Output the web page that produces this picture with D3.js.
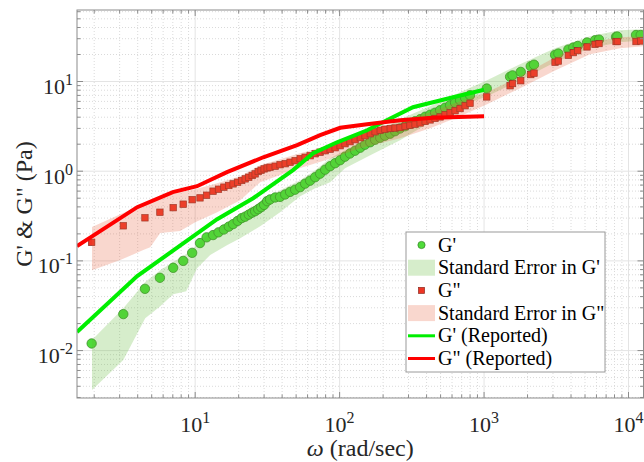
<!DOCTYPE html>
<html>
<head>
<meta charset="utf-8">
<script src="https://cdn.jsdelivr.net/npm/d3@7"></script>
<style>
  html, body { margin: 0; padding: 0; background: #fff; }
  svg { display: block; font-family: "Liberation Serif", "Times New Roman", serif; }
</style>
</head>
<body>
<div id="chart"></div>
<script>
// measured frequency sweep (rad/sec) with G' and G'' (Pa)
const omega = [1.92, 3.18, 4.49, 5.70, 7.04, 8.26, 9.53, 10.8, 12.0, 13.3,
  14.5, 15.8, 17.1, 18.3, 19.7, 21.0, 22.2, 23.5, 24.8, 26.0,
  27.3, 28.6, 30.0, 31.5, 33.0, 35.8, 38.7, 42.0, 45.4, 49.2,
  53.3, 57.7, 62.5, 67.7, 73.3, 79.4, 86.0, 93.1, 100.8, 109,
  118, 128, 139, 150, 163, 176, 191, 206, 224, 242,
  262, 284, 307, 333, 361, 391, 423, 458, 496, 537,
  582, 630, 682, 739, 800, 1044, 1514, 1575, 1795, 2105,
  2218, 3100, 3268, 3832, 4150, 4450, 5162, 5866, 6250, 8196,
  8366, 11270, 12145];
const gPrime = [0.0120, 0.0255, 0.0488, 0.0648, 0.0837, 0.100, 0.123, 0.158, 0.183, 0.194,
  0.208, 0.224, 0.241, 0.257, 0.279, 0.300, 0.311, 0.328, 0.345, 0.358,
  0.377, 0.397, 0.421, 0.463, 0.484, 0.509, 0.517, 0.550, 0.588, 0.622,
  0.664, 0.726, 0.784, 0.857, 0.938, 1.039, 1.137, 1.228, 1.326, 1.451,
  1.575, 1.692, 1.827, 1.974, 2.104, 2.244, 2.362, 2.486, 2.617, 2.791,
  2.991, 3.172, 3.382, 3.607, 3.797, 4.049, 4.262, 4.486, 4.783, 5.099,
  5.437, 5.798, 6.182, 6.592, 7.028, 8.35, 11.3, 11.7, 12.8, 14.8,
  15.4, 19.8, 20.5, 22.7, 23.9, 24.9, 27.2, 28.8, 29.3, 31.4,
  31.7, 33.0, 33.0];
const gDouble = [0.161, 0.246, 0.302, 0.349, 0.392, 0.429, 0.481, 0.504, 0.540, 0.599,
  0.630, 0.664, 0.693, 0.722, 0.754, 0.788, 0.821, 0.857, 0.896, 0.933,
  0.992, 1.026, 1.061, 1.088, 1.108, 1.137, 1.181, 1.212, 1.260, 1.309,
  1.378, 1.432, 1.488, 1.567, 1.628, 1.692, 1.759, 1.827, 1.924, 2.025,
  2.132, 2.244, 2.362, 2.486, 2.617, 2.755, 2.862, 2.938, 2.991, 3.029,
  3.068, 3.172, 3.254, 3.339, 3.452, 3.588, 3.729, 3.876, 4.027, 4.262,
  4.486, 4.722, 4.995, 5.368, 5.723, 6.73, 8.97, 9.49, 10.2, 11.95,
  12.4, 16.4, 16.9, 19.6, 21.0, 22.1, 24.3, 26.0, 26.5, 27.9,
  27.9, 27.9, 28.3];

// standard error bands
const seGpOmega = [1.93, 3.18, 4.51, 5.73, 7.04, 8.67, 10.3, 12.7, 16.7, 20.5,
  28.2, 38.7, 53.3, 67.7, 86.0, 109, 163, 262, 423, 682,
  1049, 1775, 3100, 5414, 8735, 12700];
const seGpLow = [0.00363, 0.00784, 0.0230, 0.0313, 0.0426, 0.046, 0.083, 0.116, 0.150, 0.179,
  0.244, 0.349, 0.527, 0.647, 0.754, 1.080, 1.507, 2.215, 3.516, 5.30,
  6.85, 10.3, 16.4, 23.5, 27.4, 28.8];
const seGpHigh = [0.0131, 0.0297, 0.058, 0.0788, 0.0969, 0.119, 0.150, 0.209, 0.270, 0.332,
  0.451, 0.614, 0.794, 1.026, 1.396, 1.714, 2.455, 3.797, 5.30, 7.59,
  10.3, 15.6, 23.5, 31.9, 37.2, 38.2];

const seGdpOmega = [1.93, 3.03, 4.37, 4.88, 5.73, 7.87, 10.0, 14.2, 20.5, 28.2,
  47.7, 79.4, 139, 262, 423, 682, 1049, 1775, 3100, 5414,
  8735, 12700];
const seGdpLow = [0.0788, 0.102, 0.132, 0.142, 0.204, 0.215, 0.270, 0.349, 0.475, 0.754,
  1.026, 1.326, 1.804, 2.332, 3.014, 4.101, 5.58, 8.41, 13.3, 20.1,
  23.5, 24.7];
const seGdpHigh = [0.238, 0.332, 0.429, 0.451, 0.513, 0.583, 0.630, 0.735, 0.880, 1.166,
  1.507, 1.899, 2.720, 3.607, 4.544, 6.026, 7.59, 11.4, 18.6, 27.4,
  31.1, 31.9];

// reported curves
const repGpOmega = [1.52, 3.97, 14.2, 25.2, 47.6, 65.6, 96, 155, 212, 322, 610, 1000];
const repGp = [0.0161, 0.0676, 0.292, 0.50, 1.03, 1.59, 2.10, 2.86, 3.70, 5.17, 6.67, 8.1];
const repGdpOmega = [1.52, 3.97, 7.0, 10.3, 16.6, 29.6, 50.8, 73.3, 101, 155, 262, 443, 1000];
const repGdp = [0.146, 0.397, 0.584, 0.68, 0.975, 1.43, 1.95, 2.52, 3.05, 3.34, 3.70, 3.95, 4.10];

const xTickExps = [1, 2, 3, 4];
const yTickExps = [-2, -1, 0, 1];
const xDomain = [1.52, 12700];
const yDomain = [0.00296, 62.7];

const legendLabels = ["G'", "Standard Error in G'", "G\"", "Standard Error in G\"", "G' (Reported)", "G\" (Reported)"];

const width = 644, height = 462;
const plot = {left: 77, right: 643.5, top: 10, bottom: 398};

const colors = {
  gpFill: "#4fdc3a", gpEdge: "#3a8c2a",
  gdpFill: "#ee3524", gdpEdge: "#8c2a20",
  gpBand: "#5cb82e", gdpBand: "#e8603c",
  gpLine: "#00ee00", gdpLine: "#ff0000",
  axis: "#8c8c8c", gridMajor: "#e4e4e4", gridMinor: "#dadada"
};

const svg = d3.select("#chart").append("svg")
  .attr("width", width)
  .attr("height", height);

const x = d3.scaleLog().domain(xDomain).range([plot.left, plot.right]);
const y = d3.scaleLog().domain(yDomain).range([plot.bottom, plot.top]);

function logTicks(domain) {
  const out = [];
  const lo = Math.floor(Math.log10(domain[0])), hi = Math.ceil(Math.log10(domain[1]));
  for (let e = lo; e <= hi; e++) {
    for (let m = 1; m <= 9; m++) {
      const v = m * Math.pow(10, e);
      if (v >= domain[0] && v <= domain[1]) out.push({v, major: m === 1});
    }
  }
  return out;
}

const xTicks = logTicks(xDomain);
const yTicks = logTicks(yDomain);

// grid
const grid = svg.append("g");
grid.selectAll(".gx")
  .data(xTicks)
  .join("line")
    .attr("x1", d => x(d.v)).attr("x2", d => x(d.v))
    .attr("y1", plot.top).attr("y2", plot.bottom)
    .attr("stroke", d => d.major ? colors.gridMajor : colors.gridMinor)
    .attr("stroke-width", 1)
    .attr("stroke-dasharray", d => d.major ? null : "1,2");
grid.selectAll(".gy")
  .data(yTicks)
  .join("line")
    .attr("y1", d => y(d.v)).attr("y2", d => y(d.v))
    .attr("x1", plot.left).attr("x2", plot.right)
    .attr("stroke", d => d.major ? colors.gridMajor : colors.gridMinor)
    .attr("stroke-width", 1)
    .attr("stroke-dasharray", d => d.major ? null : "1,2");

svg.append("clipPath").attr("id", "clip")
  .append("rect")
    .attr("x", plot.left).attr("y", plot.top)
    .attr("width", plot.right - plot.left).attr("height", plot.bottom - plot.top);

const zip = (xs, ys) => xs.map((v, i) => [v, ys[i]]);
const bandRows = (xs, lo, hi) => xs.map((v, i) => ({w: v, lo: lo[i], hi: hi[i]}));

const area = d3.area()
  .x(d => x(d.w))
  .y0(d => y(d.lo))
  .y1(d => y(d.hi));
const line = d3.line()
  .x(d => x(d[0]))
  .y(d => y(d[1]));

const data = svg.append("g");

// G' markers
data.append("g")
  .selectAll("circle")
  .data(zip(omega, gPrime))
  .join("circle")
    .attr("cx", d => x(d[0]))
    .attr("cy", d => y(d[1]))
    .attr("r", 4.7)
    .attr("fill", colors.gpFill)
    .attr("stroke", colors.gpEdge)
    .attr("stroke-width", 0.8);

// G' standard error
data.append("path")
  .attr("clip-path", "url(#clip)")
  .attr("d", area(bandRows(seGpOmega, seGpLow, seGpHigh)))
  .attr("fill", colors.gpBand)
  .attr("fill-opacity", 0.25);

// G'' markers
const sq = 6.4;
data.append("g")
  .selectAll("rect")
  .data(zip(omega, gDouble))
  .join("rect")
    .attr("x", d => x(d[0]) - sq / 2)
    .attr("y", d => y(d[1]) - sq / 2)
    .attr("width", sq).attr("height", sq)
    .attr("fill", colors.gdpFill)
    .attr("stroke", colors.gdpEdge)
    .attr("stroke-width", 0.7);

// G'' standard error
data.append("path")
  .attr("clip-path", "url(#clip)")
  .attr("d", area(bandRows(seGdpOmega, seGdpLow, seGdpHigh)))
  .attr("fill", colors.gdpBand)
  .attr("fill-opacity", 0.25);

// reported curves
data.append("path")
  .attr("clip-path", "url(#clip)")
  .attr("d", line(zip(repGpOmega, repGp)))
  .attr("fill", "none")
  .attr("stroke", colors.gpLine)
  .attr("stroke-width", 4);
data.append("path")
  .attr("clip-path", "url(#clip)")
  .attr("d", line(zip(repGdpOmega, repGdp)))
  .attr("fill", "none")
  .attr("stroke", colors.gdpLine)
  .attr("stroke-width", 4);

// axes box + inward ticks
const axes = svg.append("g").attr("stroke", colors.axis).attr("stroke-width", 1);
axes.append("rect")
  .attr("x", plot.left).attr("y", plot.top)
  .attr("width", plot.right - plot.left).attr("height", plot.bottom - plot.top)
  .attr("fill", "none");
const tl = d => d.major ? 6 : 3.5;
axes.selectAll(".tb").data(xTicks).join("line")
  .attr("x1", d => x(d.v)).attr("x2", d => x(d.v))
  .attr("y1", plot.bottom).attr("y2", d => plot.bottom - tl(d));
axes.selectAll(".tt").data(xTicks).join("line")
  .attr("x1", d => x(d.v)).attr("x2", d => x(d.v))
  .attr("y1", plot.top).attr("y2", d => plot.top + tl(d));
axes.selectAll(".tlft").data(yTicks).join("line")
  .attr("y1", d => y(d.v)).attr("y2", d => y(d.v))
  .attr("x1", plot.left).attr("x2", d => plot.left + tl(d));
axes.selectAll(".trt").data(yTicks).join("line")
  .attr("y1", d => y(d.v)).attr("y2", d => y(d.v))
  .attr("x1", plot.right).attr("x2", d => plot.right - tl(d));

// tick labels
function powLabel(sel) {
  sel.append("tspan").text("10");
  sel.append("tspan").attr("dy", -9).attr("font-size", 16).text(e => e);
}
svg.append("g")
  .selectAll("text")
  .data(xTickExps)
  .join("text")
    .attr("x", e => x(Math.pow(10, e)))
    .attr("y", 432)
    .attr("text-anchor", "middle")
    .attr("font-size", 22)
    .attr("fill", "#262626")
    .call(powLabel);
svg.append("g")
  .selectAll("text")
  .data(yTickExps)
  .join("text")
    .attr("x", 73)
    .attr("y", e => y(Math.pow(10, e)) + 12.5)
    .attr("text-anchor", "end")
    .attr("font-size", 22)
    .attr("fill", "#262626")
    .call(powLabel);

// axis titles
const xt = svg.append("text")
  .attr("x", (plot.left + plot.right) / 2)
  .attr("y", 456)
  .attr("text-anchor", "middle")
  .attr("font-size", 24)
  .attr("fill", "#262626");
xt.append("tspan").attr("font-style", "italic").text("ω");
xt.append("tspan").text(" (rad/sec)");

svg.append("text")
  .attr("transform", `translate(32,${(plot.top + plot.bottom) / 2}) rotate(-90)`)
  .attr("text-anchor", "middle")
  .attr("font-size", 24)
  .attr("fill", "#262626")
  .text("G' & G\" (Pa)");

// legend
const lg = svg.append("g");
lg.append("rect")
  .attr("x", 406).attr("y", 232)
  .attr("width", 199).attr("height", 140)
  .attr("fill", "#fff")
  .attr("stroke", "#9a9a9a");
const rowY = i => 245 + i * 22.7;
lg.selectAll("text")
  .data(legendLabels)
  .join("text")
    .attr("x", 438)
    .attr("y", (d, i) => rowY(i) + 6.5)
    .attr("font-size", 20)
    .attr("fill", "#000")
    .text(d => d);
lg.append("circle")
  .attr("cx", 421.5).attr("cy", rowY(0)).attr("r", 3.6)
  .attr("fill", colors.gpFill).attr("stroke", colors.gpEdge).attr("stroke-width", 0.8);
lg.append("rect")
  .attr("x", 408).attr("y", rowY(1) - 8).attr("width", 27).attr("height", 16)
  .attr("fill", colors.gpBand).attr("fill-opacity", 0.25);
lg.append("rect")
  .attr("x", 421.5 - 3).attr("y", rowY(2) - 3).attr("width", 6).attr("height", 6)
  .attr("fill", colors.gdpFill).attr("stroke", colors.gdpEdge).attr("stroke-width", 0.7);
lg.append("rect")
  .attr("x", 408).attr("y", rowY(3) - 8).attr("width", 27).attr("height", 16)
  .attr("fill", colors.gdpBand).attr("fill-opacity", 0.25);
lg.append("line")
  .attr("x1", 408).attr("x2", 435).attr("y1", rowY(4)).attr("y2", rowY(4))
  .attr("stroke", colors.gpLine).attr("stroke-width", 3);
lg.append("line")
  .attr("x1", 408).attr("x2", 435).attr("y1", rowY(5)).attr("y2", rowY(5))
  .attr("stroke", colors.gdpLine).attr("stroke-width", 3);
</script>
</body>
</html>
